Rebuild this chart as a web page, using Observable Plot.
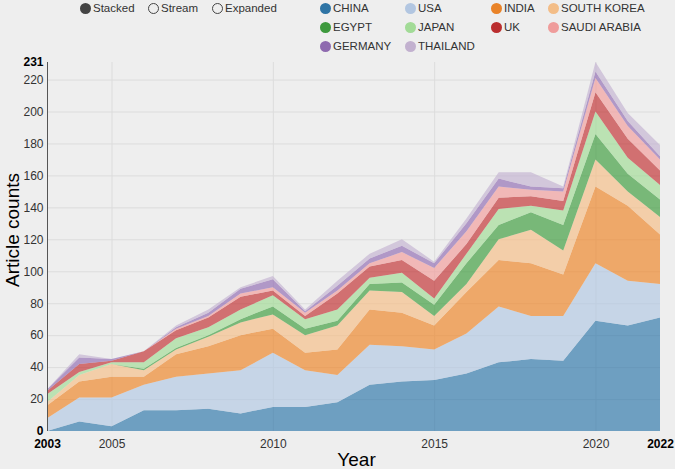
<!DOCTYPE html>
<html>
<head>
<meta charset="utf-8">
<script src="https://cdn.jsdelivr.net/npm/d3@7"></script>
<script src="https://cdn.jsdelivr.net/npm/@observablehq/plot@0.6"></script>
<style>
  html, body { margin: 0; padding: 0; background: #eeeeee; }
  body { width: 675px; height: 469px; overflow: hidden; font-family: Arial, "Liberation Sans", sans-serif; }
  #legend { position: relative; width: 675px; height: 54px; font-size: 11.5px; color: #333; }
  .item { position: absolute; display: flex; align-items: center; white-space: nowrap; line-height: 12px; }
  .dot { width: 11px; height: 11px; border-radius: 50%; margin-right: 2px; box-sizing: border-box; }
  .cdot { filter: saturate(0.8); }
  #chart svg g[aria-label="area"] { filter: saturate(0.85); }
</style>
</head>
<body>
<div id="legend"></div>
<div id="chart"></div>
<script>
// ---- data ----
const years = [2003, 2004, 2005, 2006, 2007, 2008, 2009, 2010, 2011, 2012, 2013, 2014, 2015, 2016, 2017, 2018, 2019, 2020, 2021, 2022];
const countries = ["CHINA", "USA", "INDIA", "SOUTH KOREA", "EGYPT", "JAPAN", "UK", "SAUDI ARABIA", "GERMANY", "THAILAND"];
const china    = [0, 6, 3, 13, 13, 14, 11, 15, 15, 18, 29, 31, 32, 36, 43, 45, 44, 69, 66, 71];
const usa      = [8, 15, 18, 16, 21, 22, 27, 34, 23, 17, 25, 22, 19, 25, 35, 27, 28, 36, 28, 21];
const india    = [8, 10, 13, 5, 14, 17, 22, 15, 11, 16, 22, 21, 15, 26, 29, 33, 26, 48, 47, 31];
const skorea   = [2, 4, 8, 4, 3, 6, 8, 9, 11, 15, 12, 13, 6, 5, 13, 21, 15, 17, 9, 11];
const egypt    = [0, 0, 0, 1, 1, 1, 2, 5, 4, 3, 4, 6, 7, 13, 9, 11, 16, 16, 11, 11];
const japan    = [5, 2, 1, 4, 6, 5, 6, 7, 6, 7, 4, 6, 4, 6, 10, 4, 9, 14, 10, 9];
const uk       = [2, 5, 1, 7, 5, 6, 8, 3, 2, 10, 7, 8, 11, 6, 7, 6, 6, 12, 12, 9];
const saudi    = [0, 0, 0, 0, 1, 1, 2, 2, 2, 2, 2, 5, 8, 8, 7, 4, 6, 9, 8, 7];
const germany  = [1, 4, 1, 0, 1, 2, 3, 5, 1, 3, 3, 4, 3, 5, 5, 2, 2, 4, 3, 2];
const thailand = [0, 2, 0, 0, 1, 2, 1, 2, 1, 3, 3, 4, 1, 3, 4, 9, 1, 6, 5, 7];
const colors = ["#1f77b4", "#aec7e8", "#ff7f0e", "#ffbb78", "#2ca02c", "#98df8a", "#d62728", "#ff9896", "#9467bd", "#c5b0d5"];
const modes = ["Stacked", "Stream", "Expanded"];
const yTicks = [20, 40, 60, 80, 100, 120, 140, 160, 180, 200, 220];
const yEnds = [0, 231];
const xTicks = [2005, 2010, 2015, 2020];
const xEnds = [2003, 2022];

const series = [china, usa, india, skorea, egypt, japan, uk, saudi, germany, thailand];
const table = [];
countries.forEach((c, i) => years.forEach((y, j) => table.push({year: y, country: c, value: series[i][j]})));

// ---- legend (HTML, above the svg) ----
const legend = document.getElementById("legend");
const modeX = [80, 148, 212];
modes.forEach((m, i) => {
  const el = document.createElement("div");
  el.className = "item";
  el.style.left = modeX[i] + "px"; el.style.top = "2px";
  const dot = document.createElement("div");
  dot.className = "dot";
  if (i === 0) { dot.style.background = "#444"; }
  else { dot.style.border = "1.7px solid #444"; }
  el.appendChild(dot);
  el.appendChild(document.createTextNode(m));
  legend.appendChild(el);
});
const colX = [320, 405, 491, 548];
const rowY = [2, 21, 40];
countries.forEach((c, i) => {
  const el = document.createElement("div");
  el.className = "item";
  el.style.left = colX[i % 4] + "px"; el.style.top = rowY[Math.floor(i / 4)] + "px";
  const dot = document.createElement("div");
  dot.className = "dot cdot";
  dot.style.background = colors[i];
  el.appendChild(dot);
  el.appendChild(document.createTextNode(c));
  legend.appendChild(el);
});

// ---- chart ----
const chart = Plot.plot({
  width: 675,
  height: 415,
  marginTop: 8,
  marginBottom: 38,
  marginLeft: 47,
  marginRight: 15,
  style: {background: "#eeeeee", fontFamily: "Arial, 'Liberation Sans', sans-serif", fontSize: "12px", color: "#333"},
  x: {domain: [xEnds[0], xEnds[1]]},
  y: {domain: [yEnds[0], yEnds[1]]},
  color: {domain: countries, range: colors},
  marks: [
    Plot.gridY(yTicks, {stroke: "#dcdcdc", strokeOpacity: 1}),
    Plot.gridX(xTicks, {stroke: "#dcdcdc", strokeOpacity: 1}),
    Plot.areaY(table, {x: "year", y: "value", fill: "country", order: countries, fillOpacity: 0.65, curve: "linear"}),
    Plot.ruleX([xEnds[0]], {stroke: "#555", strokeWidth: 1}),
    Plot.axisY(yTicks, {tickSize: 0, tickPadding: 4, fill: "#333", label: null}),
    Plot.axisY(yEnds, {tickSize: 0, tickPadding: 4, fill: "#000", fontWeight: "bold", label: null}),
    Plot.axisX(xTicks, {tickSize: 0, tickPadding: 8, fill: "#333", tickFormat: d => String(d), label: null}),
    Plot.axisX(xEnds, {tickSize: 0, tickPadding: 8, fill: "#000", fontWeight: "bold", tickFormat: d => String(d), label: null}),
    Plot.text(["Article counts"], {frameAnchor: "left", textAnchor: "middle", rotate: -90, dx: -35, dy: -17, fontSize: 19, fill: "#000"}),
    Plot.text(["Year"], {frameAnchor: "bottom", textAnchor: "middle", dx: 2.5, dy: 34, fontSize: 19, fill: "#000"})
  ]
});
document.getElementById("chart").appendChild(chart);
</script>
</body>
</html>
